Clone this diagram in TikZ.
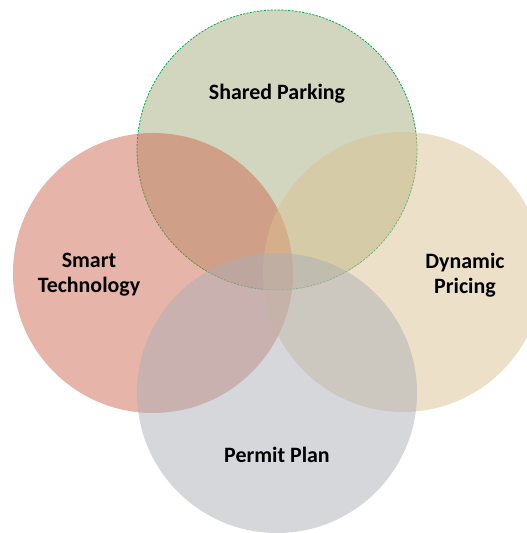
\documentclass[tikz,border=0pt]{standalone}
\usepackage{fontspec}
\setmainfont{Carlito}
\usepackage{tikz}
\usetikzlibrary{positioning}

\definecolor{parkgreen}{RGB}{165,173,125}
\definecolor{techred}{RGB}{205,105,81}
\definecolor{pricetan}{RGB}{219,193,145}
\definecolor{permitgray}{RGB}{171,175,183}
\definecolor{rimgreen}{RGB}{0,176,80}

\tikzset{
  bubble/.style={circle,inner sep=0pt,outer sep=0pt,minimum size=280bp,fill opacity=0.5},
  caption/.style={align=center,font=\fontsize{22}{25}\selectfont\bfseries}
}

\begin{document}
\begin{tikzpicture}[x=1bp,y=1bp]
\useasboundingbox (0,0) rectangle (527,533);
\clip (0,0) rectangle (527,533);

% Circles
\node[bubble,fill=parkgreen,draw=rimgreen,draw opacity=1,line width=0.8bp,dash pattern=on 2.2bp off 1.3bp] (park) at (277,383) {};
\node[bubble,fill=techred] (tech) at (153,260) {};
\node[bubble,fill=pricetan] (price) at (403,261) {};
\node[bubble,fill=permitgray] (permit) at (277,140) {};

% Labels
\node[caption] (parklbl) at (277,439) {Shared Parking};
\node[caption] (techlbl) at (89,258) {Smart\\Technology};
\node[caption] (pricelbl) at (465,258) {Dynamic\\Pricing};
\node[caption] (permitlbl) at (277,78) {Permit Plan};
\end{tikzpicture}
\end{document}
